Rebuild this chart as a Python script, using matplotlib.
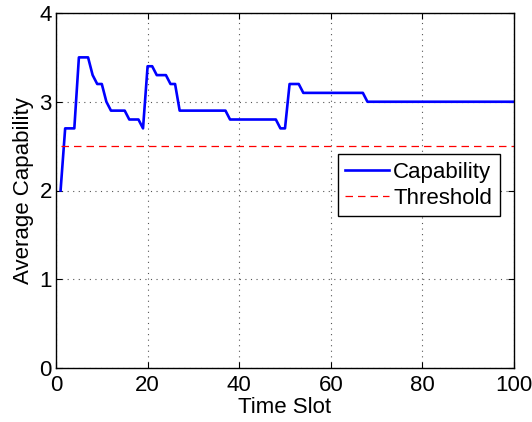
import matplotlib
matplotlib.use("Agg")
import matplotlib.pyplot as plt

time_slots = [1, 2, 4, 5, 7, 8, 9, 10, 11, 12, 15, 16, 18, 19, 20, 21, 22, 24, 25, 26,
              27, 37, 38, 48, 49, 50, 51, 53, 54, 67, 68, 100]
capability = [2.0, 2.7, 2.7, 3.5, 3.5, 3.3, 3.2, 3.2, 3.0, 2.9, 2.9, 2.8, 2.8, 2.7, 3.4,
              3.4, 3.3, 3.3, 3.2, 3.2, 2.9, 2.9, 2.8, 2.8, 2.7, 2.7, 3.2, 3.2, 3.1, 3.1,
              3.0, 3.0]
threshold_x = [1, 100]
threshold_y = [2.5, 2.5]
xticks = [0, 20, 40, 60, 80, 100]
yticks = [0, 1, 2, 3, 4]

plt.rcParams['font.family'] = ['Liberation Sans', 'DejaVu Sans']

fig = plt.figure(figsize=(5.32, 4.22), dpi=100)
ax = fig.add_axes([56/532, 1-368/422, 458/532, 355/422])

ax.plot(time_slots, capability, color='#0000ff', lw=1.9, label='Capability')
ax.plot(threshold_x, threshold_y, color='#ff0000', lw=0.9, ls=(0, (6, 4)), label='Threshold')

ax.set_xlim(0, 100)
ax.set_ylim(0, 4)
ax.set_xticks(xticks)
ax.set_yticks(yticks)
ax.tick_params(direction='in', top=True, right=True, labelsize=16, length=4, width=0.8)
ax.tick_params(axis='x', pad=5)
ax.tick_params(axis='y', pad=3)
ax.grid(True, ls=(0, (1, 4)), color='#555555', lw=0.8)
for s in ax.spines.values():
    s.set_linewidth(1.0)

ax.set_xlabel('Time Slot', fontsize=16, labelpad=1)
ax.set_ylabel('Average Capability', fontsize=16, labelpad=4)

leg = ax.legend(loc='upper right', bbox_to_anchor=(0.969, 0.602), borderaxespad=0,
                fontsize=16, fancybox=False, framealpha=1, edgecolor='black',
                handlelength=1.95, handletextpad=0.2, borderpad=0.35, labelspacing=0.2)
leg.get_frame().set_linewidth(1.0)

fig.savefig('out.png', dpi=100)
